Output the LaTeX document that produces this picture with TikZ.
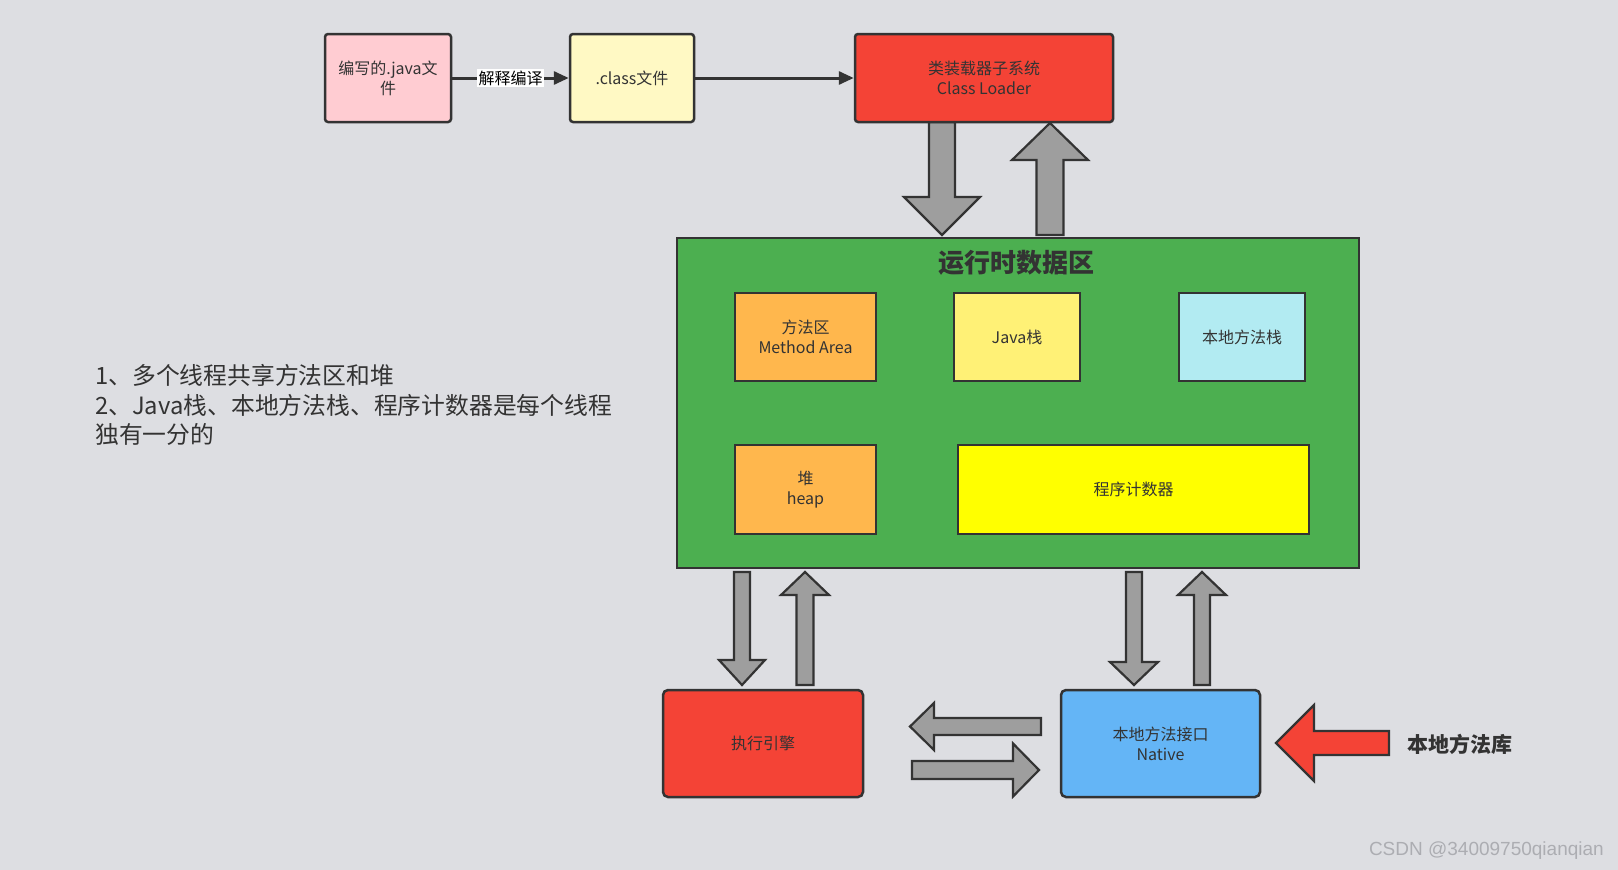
\documentclass[tikz,border=0pt]{standalone}
\usepackage{fontspec}
\setmainfont{Noto Sans CJK SC}
\newfontfamily\wmfont{Liberation Sans}
\usetikzlibrary{arrows.meta}
\definecolor{bgc}{RGB}{221,222,226}
\definecolor{bordc}{RGB}{51,51,51}
\definecolor{textc}{RGB}{51,51,51}
\definecolor{pinkc}{RGB}{255,204,210}
\definecolor{lyel}{RGB}{255,249,196}
\definecolor{redc}{RGB}{244,67,54}
\definecolor{greenc}{RGB}{76,175,80}
\definecolor{orangec}{RGB}{255,183,77}
\definecolor{yel2}{RGB}{255,241,118}
\definecolor{cyanc}{RGB}{178,235,242}
\definecolor{yel3}{RGB}{255,255,0}
\definecolor{bluec}{RGB}{100,181,246}
\definecolor{grayc}{RGB}{158,158,158}
\definecolor{wmc}{RGB}{172,173,178}
\newcommand\vblk[7][grayc]{%
  \draw[garrow,fill=#1] ({#2-#3},#5) -- ({#2-#3},#6) -- ({#2-#4},#6) -- (#2,#7) -- ({#2+#4},#6) -- ({#2+#3},#6) -- ({#2+#3},#5) -- cycle;}
\newcommand\hblk[7][grayc]{%
  \draw[garrow,fill=#1] (#5,{#2-#3}) -- (#6,{#2-#3}) -- (#6,{#2-#4}) -- (#7,#2) -- (#6,{#2+#4}) -- (#6,{#2+#3}) -- (#5,{#2+#3}) -- cycle;}
\tikzset{
  box/.style={draw=bordc, line width=2.5pt, rounded corners=3pt, text=textc, align=center,
    font=\fontsize{16}{20}\selectfont, inner sep=0pt},
  sqbox/.style={box, rounded corners=0pt},
  garrow/.style={draw=bordc, line width=2.2pt, line join=miter},
  conn/.style={draw=bordc, line width=3pt, -{Triangle[length=15pt,width=13pt]}},
}
\begin{document}
\begin{tikzpicture}[x=1pt,y=-1pt]
\useasboundingbox[fill=bgc] (0,0) rectangle (1618,870);
% block arrows
\vblk{942}{13}{38}{122}{197}{235}
\vblk{1050}{13.5}{38}{235}{160}{123}
\vblk{742}{8}{23}{572}{660}{685}
\vblk{805}{8.5}{24}{685}{595}{572}
\vblk{1134}{8}{24}{572}{662}{685}
\vblk{1202}{8}{24}{685}{595}{572}
\hblk{726.5}{8.5}{23.5}{1041}{934}{910}
\hblk{770}{9}{26.5}{912}{1013}{1039}
\hblk[redc]{743}{12}{38}{1389}{1314}{1276}
% top row
\node[box, fill=pinkc, minimum width=126pt, minimum height=88pt] (jfile) at (388,78) {编写的.java文\\件};
\node[box, fill=lyel, minimum width=124pt, minimum height=88pt] (cfile) at (632,78) {.class文件};
\node[box, fill=redc, minimum width=258pt, minimum height=88pt] (loader) at (984,78) {类装载器子系统\\Class Loader};
\draw[conn] (jfile) -- node[fill=white, inner sep=1.5pt, text=black, font=\fontsize{16}{18}\selectfont] (lbl) {解释编译} (cfile);
\draw[conn] (cfile) -- (loader);
% runtime data area
\node[sqbox, fill=greenc, minimum width=682pt, minimum height=330pt] (rda) at (1018,403) {};
\node[text=textc, font=\fontsize{26}{30}\selectfont\bfseries] (title) at (1016,263) {运行时数据区};
\node[sqbox, fill=orangec, minimum width=141pt, minimum height=88pt] (method) at (805.5,337) {方法区\\Method Area};
\node[sqbox, fill=yel2, minimum width=126pt, minimum height=88pt] (jstack) at (1017,337) {Java栈};
\node[sqbox, fill=cyanc, minimum width=126pt, minimum height=88pt] (nstack) at (1242,337) {本地方法栈};
\node[sqbox, fill=orangec, minimum width=141pt, minimum height=89pt] (heap) at (805.5,489.5) {堆\\heap};
\node[sqbox, fill=yel3, minimum width=351pt, minimum height=89pt] (pc) at (1133.5,489.5) {程序计数器};
% bottom row
\node[box, rounded corners=5pt, fill=redc, minimum width=200pt, minimum height=107pt] (engine) at (763,743.5) {执行引擎};
\node[box, rounded corners=5pt, fill=bluec, minimum width=199pt, minimum height=107pt] (native) at (1160.5,743.5) {本地方法接口\\Native};
\node[anchor=west, text=textc, font=\fontsize{21}{25}\selectfont\bfseries, inner sep=0pt] (nlib) at (1407,744) {本地方法库};
% note
\node[anchor=west, align=left, text=textc, inner sep=0pt, font=\fontsize{23.8}{29.5}\selectfont] (note) at (95,405)
  {1、多个线程共享方法区和堆\\2、Java栈、本地方法栈、程序计数器是每个线程\\独有一分的};
% watermark
\node[anchor=east, text=wmc, inner sep=0pt, font=\wmfont\fontsize{19}{22}\selectfont] (wm) at (1604,851) {CSDN @34009750qianqian};
\end{tikzpicture}
\end{document}
